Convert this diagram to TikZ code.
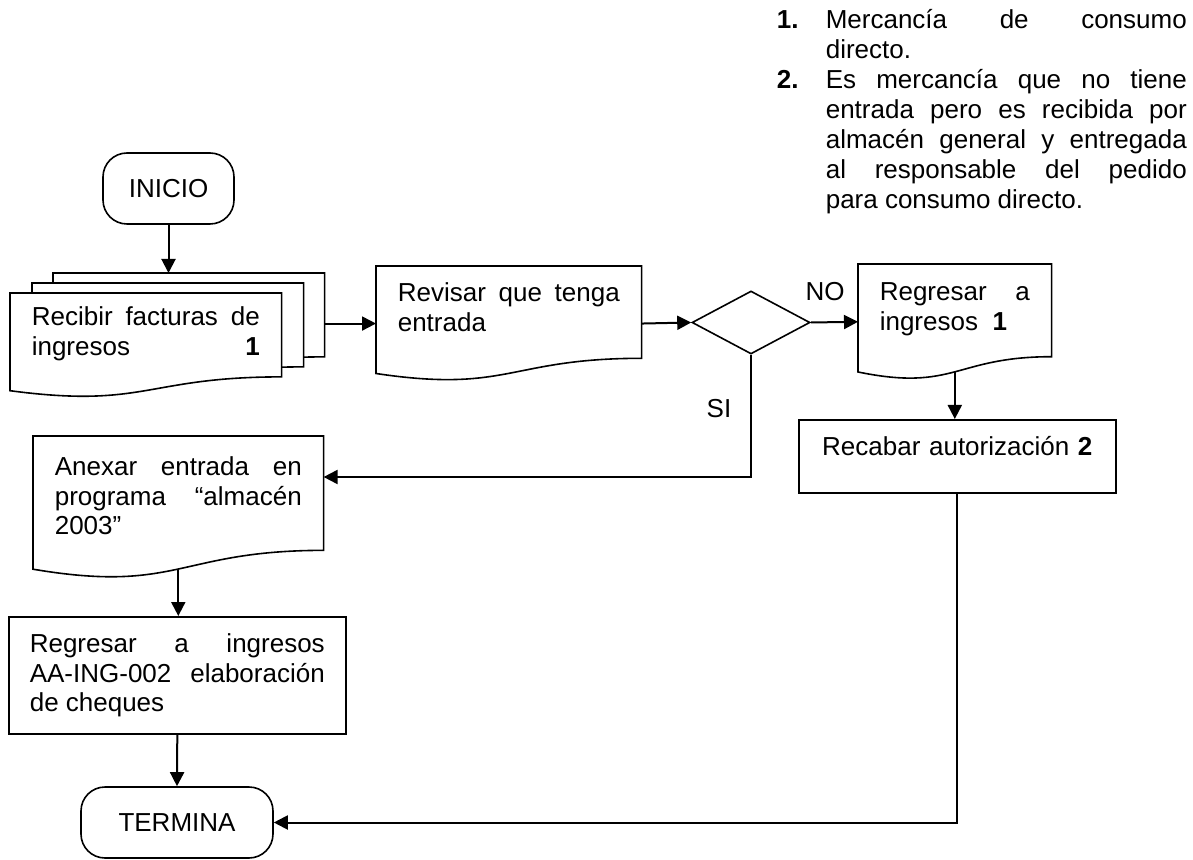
\documentclass[tikz,border=0pt]{standalone}
\usepackage{fontspec}
\setmainfont{Liberation Sans}
\usetikzlibrary{arrows.meta,calc,positioning,shapes.geometric}

\tikzset{
  term/.style={draw, rounded corners=12pt, minimum height=35.5pt, inner sep=0pt},
  docbox/.style={draw=none, fill=white, anchor=north west, inner xsep=10.5pt, inner ysep=0pt, align=justify},
  procbox/.style={draw, anchor=north west, inner xsep=10.5pt, inner ysep=0pt},
  decision/.style={draw, diamond, inner sep=0pt, minimum width=59pt, minimum height=31.5pt},
  arr/.style={line width=1pt, -{Triangle[length=7pt,width=7pt]}},
}
% outline of a document symbol round node #1
\newcommand{\docpath}[1]{%
  \draw (#1.north west) -- (#1.north east)
    -- ($(#1.north east)!0.802!(#1.south east)$)
    .. controls ($(#1.north)!0.802!(#1.south)$) and ($(#1.north)!1.107!(#1.south)$)
    .. ($(#1.north west)!0.934!(#1.south west)$) -- cycle;}

\begin{document}
\begin{tikzpicture}[x=0.5pt, y=-0.5pt, line width=0.8pt,
  every node/.style={font=\fontsize{13pt}{14.7pt}\selectfont},
  recibirdoc/.style={docbox, text width=114pt, text height=16pt, text depth=35.5pt}]
\useasboundingbox (0,0) rectangle (1193,860);

% notes
\node[anchor=base west, inner sep=0pt, text width=205pt, align=justify,
  font=\fontsize{13pt}{15pt}\selectfont] (notas) at (776,29) {%
  \noindent\hangindent=24.5pt\hangafter=1\makebox[24.5pt][l]{\textbf{1.}}Mercancía de consumo\linebreak directo.\par
  \noindent\hangindent=24.5pt\hangafter=1\makebox[24.5pt][l]{\textbf{2.}}Es mercancía que no tiene\linebreak entrada pero es recibida por\linebreak almacén general y entregada\linebreak al responsable del pedido\linebreak para consumo directo.\par};

\node[term, minimum width=65.5pt] (inicio) at (168.5,188.5) {INICIO};

% stack of invoices
\coordinate (recibirNW) at (10,293);
\node[recibirdoc] (recibirC) at ([shift={(43,-20)}]recibirNW) {};
\docpath{recibirC}
\node[recibirdoc] (recibirB) at ([shift={(22,-10)}]recibirNW) {};
\docpath{recibirB}
\node[recibirdoc] (recibir) at (recibirNW) {Recibir facturas de\linebreak ingresos\hfill\textbf{1}\hspace*{6pt}};
\docpath{recibir}

\node[docbox, text width=111pt, text height=17.5pt, text depth=39.25pt] (revisar) at (376,266) {Revisar que tenga\linebreak entrada};
\docpath{revisar}

\node[decision] (dia) at (751,322.5) {};

\node[docbox, text width=75pt, text height=18pt, text depth=39pt] (regdoc) at (858,264) {Regresar a\linebreak ingresos~~\textbf{1}};
\docpath{regdoc}

\node[procbox, text width=137.5pt, text height=18pt, text depth=18.5pt, align=center] (recabar) at (798,419) {Recabar autorización \textbf{2}};

\node[docbox, text width=123.5pt, text height=19.5pt, text depth=51pt] (anexar) at (33,436) {Anexar entrada en\linebreak programa “almacén\linebreak 2003”};
\docpath{anexar}

\node[procbox, text width=147.5pt, text height=18pt, text depth=40.5pt, align=justify] (regbox) at (8,616) {Regresar a ingresos\linebreak AA-ING-002 elaboración\linebreak de cheques};

\node[term, minimum width=96pt] (termina) at (177,822.5) {TERMINA};

\node (no) at (825,291.5) {NO};
\node (si) at (719,409) {SI};

% connectors
\coordinate (regdocbot) at ($(regdoc.north)!0.933!(regdoc.south)$);
\coordinate (anexarbot) at ($(anexar.north)!0.933!(anexar.south)$);
\draw[arr] (inicio.south) -- (inicio.south |- recibirC.north);
\draw[arr] (revisar.west -| recibirC.east) -- (revisar.west);
\draw[arr] (revisar.east) -- (dia.west);
\draw[arr] (dia.east) -- (regdoc.west);
\draw[arr] (dia.south) |- ($(anexar.north east)+(0,41)$);
\draw[arr] (regdocbot) -- (regdocbot |- recabar.north);
\draw[arr] (recabar.south) |- (termina.east);
\draw[arr] (anexarbot) -- (anexarbot |- regbox.north);
\draw[arr] (regbox.south) -- (termina.north);
\end{tikzpicture}
\end{document}
